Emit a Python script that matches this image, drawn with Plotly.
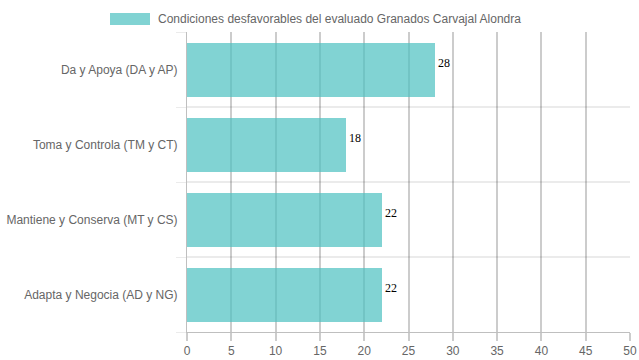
import plotly.graph_objects as go

categories = ["Da y Apoya (DA y AP)", "Toma y Controla (TM y CT)",
              "Mantiene y Conserva (MT y CS)", "Adapta y Negocia (AD y NG)"]
values = [28, 18, 22, 22]
series_name = "Condiciones desfavorables del evaluado Granados Carvajal Alondra"
x_ticks = [0, 5, 10, 15, 20, 25, 30, 35, 40, 45, 50]

pos = list(range(len(categories)))
fill = "rgba(75,192,192,0.7)"

fig = go.Figure()
fig.add_trace(go.Bar(
    y=pos, x=values, orientation="h", width=0.72,
    marker=dict(color=fill, line=dict(width=0)),
    showlegend=False, name=series_name, hoverinfo="x+y",
))

# value labels at bar ends
for p, v in zip(pos, values):
    fig.add_annotation(x=v, y=p, text=str(v), showarrow=False,
                       xanchor="left", yanchor="middle", xshift=1, yshift=7,
                       font=dict(family="Liberation Serif, Times New Roman, serif",
                                 size=12, color="#000"))

fig.update_layout(
    width=639, height=360,
    margin=dict(l=187, r=9, t=32, b=28, autoexpand=False),
    paper_bgcolor="white", plot_bgcolor="white",
    font=dict(family="Liberation Sans, Arial, sans-serif", size=12, color="#666"),
    bargap=0,
    xaxis=dict(
        range=[0, 50], tickvals=x_ticks, ticktext=[str(t) for t in x_ticks],
        showgrid=True, gridcolor="rgba(0,0,0,0.2)", gridwidth=1.5,
        zeroline=False, showline=True, linecolor="rgba(0,0,0,0.25)",
        ticks="outside", ticklen=8, tickcolor="rgba(0,0,0,0.2)", tickwidth=1.5,
        tickfont=dict(size=12, color="#666"), automargin=False,
        ticklabeloverflow="allow",
    ),
    yaxis=dict(
        range=[3.5, -0.5], tickvals=pos, ticktext=categories,
        showgrid=False, zeroline=False, showline=True,
        linecolor="rgba(0,0,0,0.25)",
        ticks="outside", ticklen=6, tickcolor="rgba(0,0,0,0)",
        tickfont=dict(size=12, color="#666"), automargin=False,
        minor=dict(tickvals=[-0.5, 0.5, 1.5, 2.5, 3.5], showgrid=True,
                   gridcolor="rgba(0,0,0,0.08)", gridwidth=1.5,
                   ticks="outside", ticklen=10,
                   tickcolor="rgba(0,0,0,0.08)"),
    ),
)

# legend drawn as box + label
fig.add_shape(type="rect", xref="paper", yref="paper",
              x0=(110 - 187) / 443, x1=(150 - 187) / 443,
              y0=(328 - 21) / 300, y1=(328 - 9) / 300,
              fillcolor=fill, line=dict(color="rgba(255,255,255,0.0)", width=0))
fig.add_annotation(xref="paper", yref="paper",
                   x=(156 - 187) / 443, y=(328 - 15) / 300,
                   xanchor="left", yanchor="middle", showarrow=False,
                   text=series_name, font=dict(size=12, color="#666"))

fig.write_html("out.html", config={"displayModeBar": False},
               post_script="document.body.style.margin='0';document.body.style.overflow='hidden';")
